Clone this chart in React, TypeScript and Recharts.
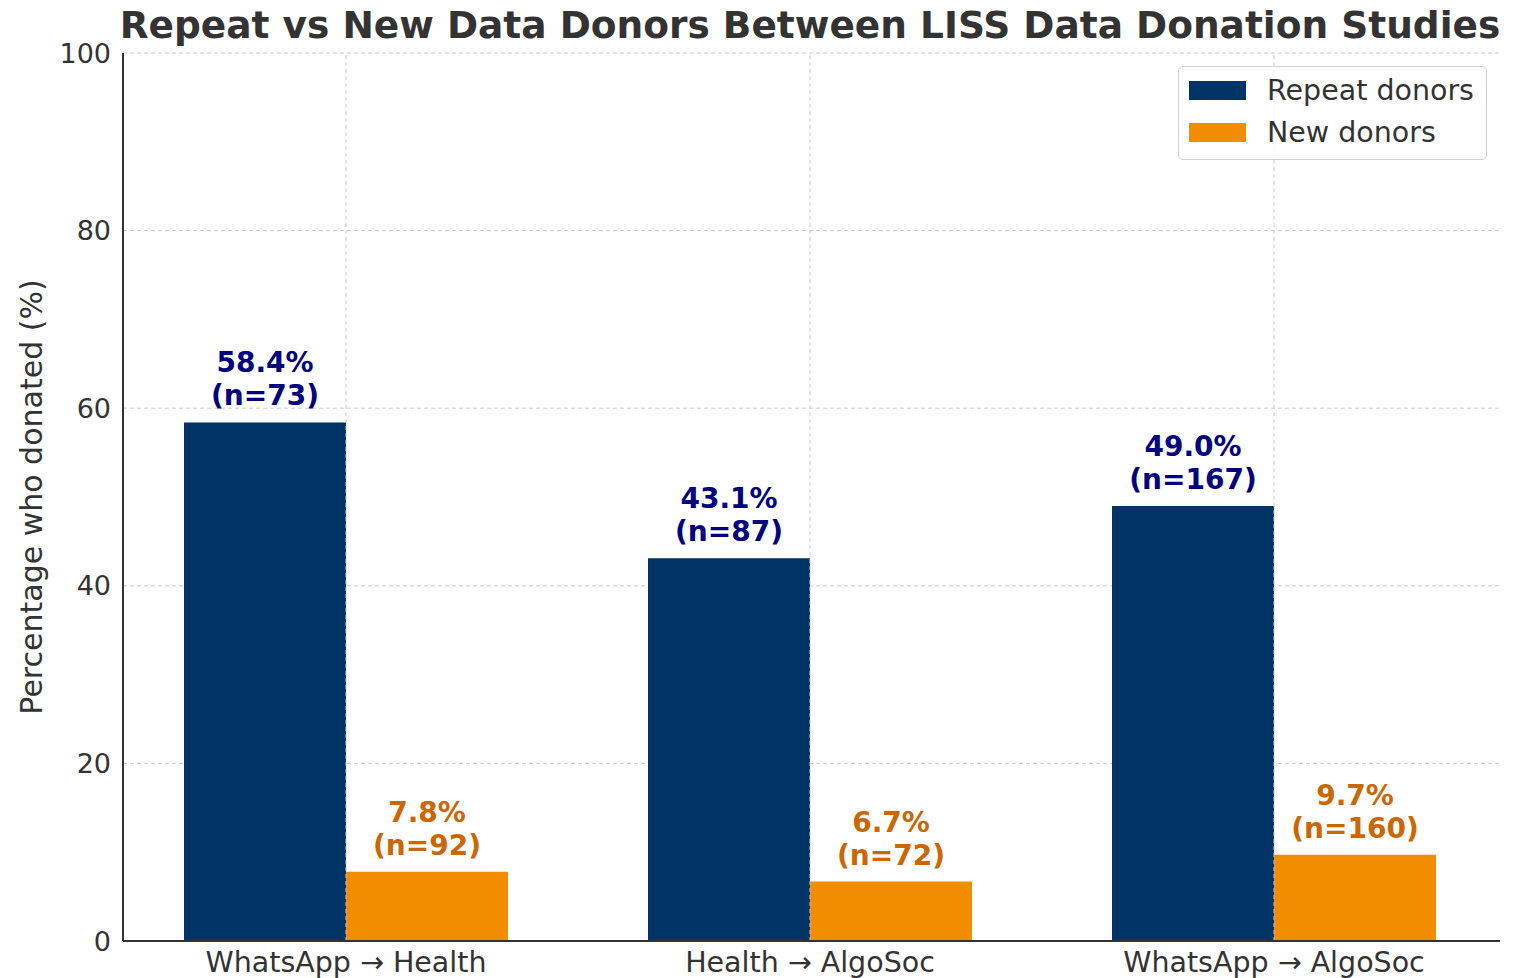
import React from "react";
import {
  BarChart,
  Bar,
  XAxis,
  YAxis,
  CartesianGrid,
  LabelList,
  ReferenceLine,
} from "recharts";

// categories and values
const studies = ["WhatsApp → Health", "Health → AlgoSoc", "WhatsApp → AlgoSoc"];
const repeatPct = [58.4, 43.1, 49.0];
const repeatN = [73, 87, 167];
const newPct = [7.8, 6.7, 9.7];
const newN = [92, 72, 160];
const yTicks = [0, 20, 40, 60, 80, 100];

const data = studies.map((study, i) => ({
  study,
  repeat: repeatPct[i],
  repeatN: repeatN[i],
  fresh: newPct[i],
  freshN: newN[i],
}));

const FONT = "'DejaVu Sans', sans-serif";
const NAVY = "#003366";
const ORANGE = "#f28c00";
const GRID = "#cccccc";

// two-line label above each bar: value and sample size
function makeLabel(nKey: "repeatN" | "freshN", color: string) {
  return (props: any) => {
    const { x, y, width, value, index } = props;
    const n = data[index][nKey];
    const cx = x + width / 2;
    return (
      <text
        x={cx}
        textAnchor="middle"
        fill={color}
        fontFamily={FONT}
        fontWeight="bold"
        fontSize={28}
      >
        <tspan x={cx} y={y - 50}>{value.toFixed(1)}%</tspan>
        <tspan x={cx} y={y - 17}>(n={n})</tspan>
      </text>
    );
  };
}

function LegendBox() {
  const items = [
    { label: "Repeat donors", color: NAVY },
    { label: "New donors", color: ORANGE },
  ];
  return (
    <div
      style={{
        position: "absolute",
        left: 1178,
        top: 66,
        width: 309,
        height: 94,
        border: "1.5px solid #d0d0d0",
        borderRadius: 5,
        background: "rgba(255,255,255,0.85)",
        fontFamily: FONT,
        boxSizing: "border-box",
        paddingTop: 2,
      }}
    >
      {items.map((it) => (
        <div key={it.label} style={{ display: "flex", alignItems: "center", height: 42 }}>
          <div style={{ width: 57, height: 19, background: it.color, marginLeft: 10 }} />
          <span style={{ marginLeft: 21, fontSize: 28.5, color: "#333" }}>{it.label}</span>
        </div>
      ))}
    </div>
  );
}

export default function App() {
  return (
    <div style={{ position: "absolute", left: 0, top: 0, width: 1521, height: 978, background: "#fff" }}>
      <div
        style={{
          position: "absolute",
          top: 3,
          left: 0,
          width: 1620,
          textAlign: "center",
          fontFamily: FONT,
          fontWeight: "bold",
          fontSize: 37.5,
          color: "#333",
          whiteSpace: "nowrap",
        }}
      >
        Repeat vs New Data Donors Between LISS Data Donation Studies
      </div>
      <BarChart
        width={1521}
        height={978}
        data={data}
        margin={{ top: 53, right: 21, left: 0, bottom: 0 }}
        barSize={162}
        barGap={0}
      >
        <CartesianGrid stroke={GRID} strokeDasharray="4 3" vertical={false} />
        <XAxis
          dataKey="study"
          padding={{ left: -9, right: -6 }}
          tick={{ fontFamily: FONT, fontSize: 28.5, fill: "#333" }}
          tickLine={false}
          axisLine={{ stroke: "#333", strokeWidth: 2 }}
          tickMargin={5}
          height={37}
        />
        <YAxis
          domain={[0, 100]}
          ticks={yTicks}
          width={123}
          tick={{ fontFamily: FONT, fontSize: 27, fill: "#333" }}
          tickLine={false}
          tickMargin={6}
          axisLine={{ stroke: "#333", strokeWidth: 2 }}
          label={{
            value: "Percentage who donated (%)",
            angle: -90,
            position: "insideLeft",
            offset: 31,
            style: { fontFamily: FONT, fontSize: 30, fill: "#333", textAnchor: "middle" },
          }}
        />
        {studies.map((s) => (
          <ReferenceLine key={s} x={s} stroke={GRID} strokeDasharray="4 3" />
        ))}
        <Bar dataKey="repeat" name="Repeat donors" fill={NAVY} isAnimationActive={false}>
          <LabelList dataKey="repeat" content={makeLabel("repeatN", "#000080")} />
        </Bar>
        <Bar dataKey="fresh" name="New donors" fill={ORANGE} isAnimationActive={false}>
          <LabelList dataKey="fresh" content={makeLabel("freshN", "#cc6600")} />
        </Bar>
      </BarChart>
      <LegendBox />
    </div>
  );
}
